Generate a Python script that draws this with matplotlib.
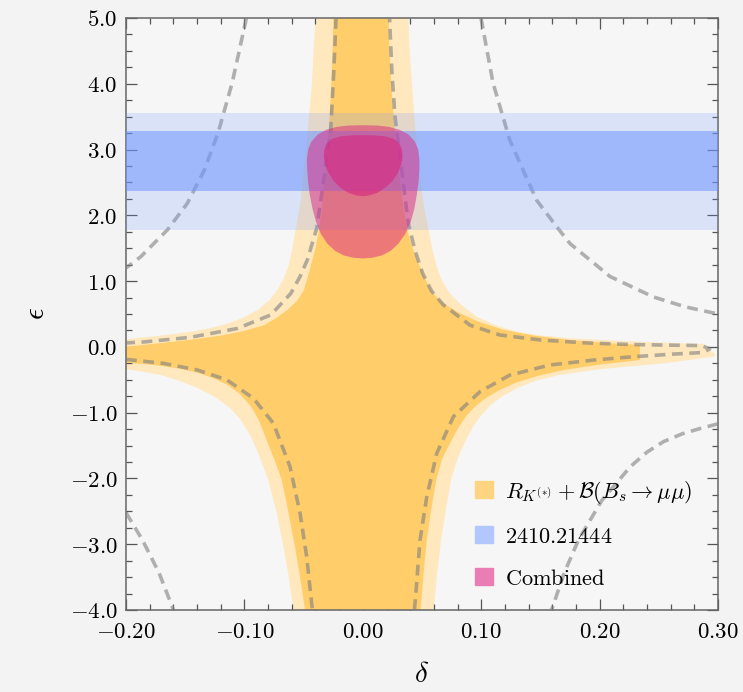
import numpy as np
import matplotlib
matplotlib.use("Agg")
import matplotlib.pyplot as plt
from matplotlib.patches import Patch
from matplotlib.ticker import MultipleLocator

plt.rcParams["mathtext.fontset"] = "cm"
plt.rcParams["font.family"] = "serif"

# --- R_K(*) + B(Bs->mumu): 2 sigma (light) region boundary
rk2_delta = [-0.040, -0.0415, -0.043, -0.0455, -0.048, -0.0505, -0.0524, -0.0545, -0.0567, -0.0595, -0.0625,
             -0.0665, -0.0715, -0.0785, -0.088, -0.100, -0.115, -0.130, -0.1454, -0.162, -0.1792, -0.2,
             -0.2, -0.1865, -0.17, -0.1544, -0.14, -0.125, -0.112, -0.103, -0.095, -0.0875, -0.080, -0.073,
             -0.067, -0.0625, -0.0587,
             0.0598, 0.0625, 0.066, 0.070, 0.0745, 0.080, 0.087, 0.093, 0.099, 0.107, 0.117, 0.130, 0.145,
             0.165, 0.200, 0.2567, 0.296,
             0.298, 0.2876, 0.2313, 0.175, 0.150, 0.130, 0.112, 0.0962, 0.083, 0.0736, 0.067, 0.0624, 0.0585,
             0.0555, 0.052, 0.049, 0.046, 0.0435, 0.0415, 0.0395, 0.0385]
rk2_eps = [5.0, 4.5, 4.0, 3.5, 3.0, 2.6, 2.23, 2.0, 1.78, 1.5, 1.25,
           1.05, 0.88, 0.72, 0.57, 0.45, 0.35, 0.28, 0.23, 0.19, 0.155, 0.115,
           -0.34, -0.375, -0.43, -0.52, -0.62, -0.76, -0.93, -1.11, -1.35, -1.65, -2.02, -2.5,
           -3.04, -3.5, -4.0,
           -4.0, -3.5, -2.94, -2.5, -2.02, -1.7, -1.42, -1.22, -1.06, -0.90, -0.76, -0.63, -0.52,
           -0.43, -0.34, -0.245, -0.15,
           -0.12, 0.044, 0.08, 0.13, 0.175, 0.23, 0.33, 0.46, 0.64, 0.81, 1.0, 1.22, 1.5,
           1.78, 2.1, 2.5, 3.0, 3.5, 4.0, 4.5, 5.0]

# 1 sigma (dark) region boundary
rk1_delta = [-0.0249, -0.0255, -0.0265, -0.028, -0.030, -0.0325, -0.0345, -0.037, -0.040, -0.0427, -0.0462,
             -0.0497, -0.0555, -0.0638, -0.073, -0.0834, -0.100, -0.1172, -0.138, -0.1595, -0.180, -0.2,
             -0.2, -0.185, -0.170, -0.155, -0.140, -0.127, -0.115, -0.105, -0.097, -0.0925, -0.087, -0.0812,
             -0.075, -0.0685, -0.063, -0.0573, -0.053, -0.0488,
             0.0488, 0.051, 0.054, 0.0575, 0.062, 0.067, 0.075, 0.081, 0.087, 0.094, 0.103, 0.115, 0.130,
             0.148, 0.170, 0.200, 0.234,
             0.234, 0.205, 0.175, 0.145, 0.1187, 0.098, 0.0821, 0.068, 0.0595, 0.0535, 0.0483, 0.042, 0.0375,
             0.0345, 0.0315, 0.0285, 0.026, 0.024, 0.0225, 0.0216]
rk1_eps = [5.0, 4.5, 4.0, 3.5, 3.0, 2.5, 2.1, 1.78, 1.5, 1.32, 1.08,
           0.865, 0.70, 0.56, 0.44, 0.33, 0.245, 0.18, 0.125, 0.08, 0.04, 0.003,
           -0.24, -0.26, -0.29, -0.33, -0.39, -0.47, -0.57, -0.70, -0.85, -0.96, -1.15, -1.42,
           -1.70, -2.02, -2.5, -3.04, -3.5, -4.0,
           -4.0, -3.5, -2.94, -2.5, -2.02, -1.70, -1.42, -1.22, -1.06, -0.92, -0.79, -0.66, -0.54,
           -0.44, -0.35, -0.27, -0.20,
           0.03, 0.06, 0.105, 0.17, 0.26, 0.38, 0.51, 0.66, 0.81, 1.0, 1.22, 1.5, 1.78,
           2.1, 2.5, 3.0, 3.5, 4.0, 4.5, 5.0]

# central contour of the same fit (inner dashed curves)
ul_delta = [-0.0226, -0.0245, -0.0271, -0.0334, -0.039, -0.0469, -0.053, -0.0609, -0.0778, -0.106, -0.1454, -0.1848, -0.2]
ul_eps = [5.0, 4.2, 3.3, 2.49, 1.8, 1.32, 1.07, 0.81, 0.485, 0.28, 0.146, 0.075, 0.06]
ll_delta = [-0.2, -0.1685, -0.140, -0.115, -0.0925, -0.0756, -0.0615, -0.053, -0.0474, -0.0432, -0.0425]
ll_eps = [-0.19, -0.25, -0.35, -0.50, -0.78, -1.16, -1.82, -2.53, -3.19, -3.90, -4.0]
r_delta = [0.0435, 0.0441, 0.0483, 0.054, 0.0624, 0.0765, 0.099, 0.124, 0.158, 0.195, 0.228, 0.262, 0.2876,
           0.293, 0.286, 0.265, 0.228, 0.189, 0.150, 0.116, 0.0905, 0.068, 0.058, 0.0505, 0.044, 0.0384,
           0.0342, 0.0272, 0.0245, 0.0226]
r_eps = [-4.0, -3.90, -2.94, -2.28, -1.62, -1.06, -0.68, -0.43, -0.275, -0.20, -0.15, -0.11, -0.085,
         -0.03, 0.02, 0.025, 0.035, 0.06, 0.105, 0.18, 0.33, 0.64, 0.85, 1.12, 1.47, 1.88,
         2.49, 3.5, 4.2, 5.0]

# outer dashed curves
l1_delta = [-0.0983, -0.1104, -0.1223, -0.1285, -0.1340, -0.1483, -0.165, -0.1876, -0.2]
l1_eps = [5.0, 4.01, 3.25, 2.95, 2.68, 2.18, 1.78, 1.37, 1.2]
r1_delta = [0.0998, 0.110, 0.124, 0.138, 0.1468, 0.164, 0.175, 0.2088, 0.2453, 0.272, 0.3]
r1_eps = [5.0, 4.01, 3.15, 2.58, 2.23, 1.82, 1.57, 1.07, 0.76, 0.61, 0.50]
r2_delta = [0.3, 0.285, 0.270, 0.254, 0.240, 0.226, 0.202, 0.182, 0.170, 0.160, 0.159]
r2_eps = [-1.17, -1.24, -1.32, -1.44, -1.60, -1.82, -2.33, -2.94, -3.44, -3.97, -4.0]
l2_delta = [-0.2, -0.186, -0.172, -0.161, -0.160]
l2_eps = [-2.52, -2.94, -3.44, -3.95, -4.0]

# 2410.21444 bands in epsilon
band2 = [1.77, 3.55]
band1 = [2.375, 3.28]

# combined fit regions
comb2_delta = [0.0, -0.012, -0.022, -0.031, -0.038, -0.0435, -0.0462, -0.0472, -0.047, -0.0462, -0.0447,
               -0.0425, -0.0395, -0.0355, -0.030, -0.0235, -0.016, -0.008, 0.0,
               0.008, 0.016, 0.0235, 0.030, 0.036, 0.0405, 0.0435, 0.0455, 0.047, 0.0478, 0.0478,
               0.0468, 0.044, 0.0385, 0.031, 0.022, 0.012]
comb2_eps = [3.37, 3.365, 3.345, 3.30, 3.23, 3.12, 3.0, 2.85, 2.7, 2.5, 2.3,
             2.1, 1.9, 1.72, 1.57, 1.46, 1.39, 1.355, 1.345,
             1.355, 1.39, 1.46, 1.57, 1.72, 1.9, 2.1, 2.3, 2.5, 2.7, 2.85,
             3.0, 3.12, 3.23, 3.30, 3.345, 3.365]
comb1_delta = [0.0, -0.010, -0.019, -0.026, -0.0305, -0.0325, -0.033, -0.032, -0.029, -0.025, -0.019,
               -0.012, -0.005, 0.0, 0.005, 0.012, 0.019, 0.025, 0.0295, 0.0325, 0.0335, 0.033, 0.031,
               0.0265, 0.019, 0.010]
comb1_eps = [3.22, 3.215, 3.20, 3.16, 3.09, 3.0, 2.9, 2.78, 2.65, 2.53, 2.42,
             2.34, 2.30, 2.29, 2.30, 2.34, 2.42, 2.52, 2.64, 2.77, 2.9, 3.0, 3.09,
             3.16, 3.20, 3.215]

x_ticks = [-0.2, -0.1, 0.0, 0.1, 0.2, 0.3]
x_labels = ["$-0.20$", "$-0.10$", "$0.00$", "$0.10$", "$0.20$", "$0.30$"]
y_ticks = [-4, -3, -2, -1, 0, 1, 2, 3, 4, 5]
y_labels = ["$-4.0$", "$-3.0$", "$-2.0$", "$-1.0$", "$0.0$", "$1.0$", "$2.0$", "$3.0$", "$4.0$", "$5.0$"]

legend_labels = [r"$R_{K^{(*)}}+\mathcal{B}(B_s\to\mu\mu)$", r"$\mathrm{2410.21444}$", r"$\mathrm{Combined}$"]

fig = plt.figure(figsize=(7.43, 6.92), dpi=100, facecolor="#F3F3F3")
ax = fig.add_axes([0.1696, 0.1185, 0.7968, 0.8555])
ax.set_facecolor("#F6F6F6")

ax.fill(rk2_delta, rk2_eps, color="#FFE8BE", lw=0, zorder=1)
ax.fill(rk1_delta, rk1_eps, color="#FFCD6A", lw=0, zorder=2)

dash_kw = dict(color="#808080", alpha=0.6, lw=2.6, ls=(0, (3.0, 1.8)), zorder=3)
for xs, ys in [(ul_delta, ul_eps), (ll_delta, ll_eps), (r_delta, r_eps),
               (l1_delta, l1_eps), (r1_delta, r1_eps), (r2_delta, r2_eps), (l2_delta, l2_eps)]:
    ax.plot(xs, ys, **dash_kw)

ax.axhspan(band2[0], band2[1], color="#6E96FF", alpha=0.2, lw=0, zorder=4)
ax.axhspan(band1[0], band1[1], color="#6E96FF", alpha=0.54, lw=0, zorder=4)

ax.fill(comb2_delta, comb2_eps, color="#DB2486", alpha=0.5, lw=0, zorder=5)
ax.fill(comb1_delta, comb1_eps, color="#D72A80", alpha=0.65, lw=0, zorder=6)

ax.set_xlim(-0.2, 0.3)
ax.set_ylim(-4, 5)
ax.set_xticks(x_ticks)
ax.set_xticklabels(x_labels)
ax.set_yticks(y_ticks)
ax.set_yticklabels(y_labels)
ax.xaxis.set_minor_locator(MultipleLocator(0.02))
ax.yaxis.set_minor_locator(MultipleLocator(0.25))
ax.tick_params(which="both", direction="in", top=True, right=True, color="#555555", width=0.9)
ax.tick_params(which="major", length=8, labelsize=16.5)
ax.tick_params(which="minor", length=4)
ax.tick_params(axis="x", pad=8)
ax.tick_params(axis="y", pad=6)
for s in ax.spines.values():
    s.set_color("#666666")
    s.set_linewidth(1.1)

ax.set_xlabel(r"$\delta$", fontsize=21, labelpad=12)
ax.set_ylabel(r"$\epsilon$", fontsize=21, labelpad=14)

handles = [Patch(color="#FFD480"), Patch(color="#B3C7FF"), Patch(color="#E97DB4")]
ax.legend(handles, legend_labels, loc="upper left", bbox_to_anchor=(0.59, 0.222), frameon=False,
          fontsize=16, handlelength=0.8, handleheight=0.8, handletextpad=0.55, labelspacing=0.9,
          borderpad=0, borderaxespad=0)

fig.savefig("out.png", dpi=100, facecolor=fig.get_facecolor())
